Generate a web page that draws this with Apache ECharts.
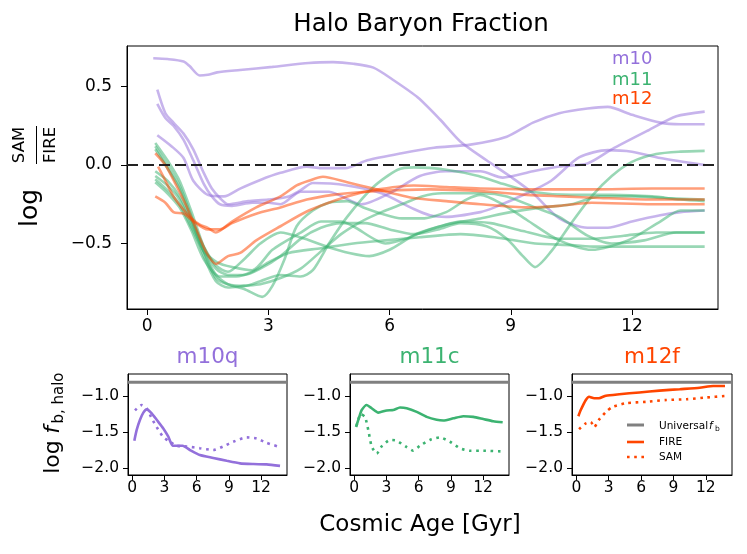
<!DOCTYPE html>
<html>
<head>
  <meta charset="UTF-8"/>
  <title>Halo Baryon Fraction</title>
  <script src="https://cdn.jsdelivr.net/npm/echarts@6/dist/echarts.min.js"></script>
  <style>
    html, body { margin: 0; background: #fff; }
    #main { width: 747px; height: 554px; }
  </style>
</head>
<body>
<div id="main"></div>
<script>
// ---- main panel: log(SAM/FIRE) vs cosmic age [Gyr] ----
const m10a = [[0.15,0.68],[0.5,0.675],[0.9,0.66],[1.05,0.63],[1.3,0.57],[1.5,0.575],[1.73,0.59],[2.3,0.605],[3.1,0.625],[4.0,0.65],[4.6,0.655],[5.1,0.645],[5.6,0.62],[6.1,0.54],[6.7,0.43],[7.25,0.29],[7.75,0.15],[8.4,0.03],[9.0,-0.075],[9.55,-0.18],[10.2,-0.34],[10.9,-0.40],[11.4,-0.40],[12.0,-0.36],[12.7,-0.32],[13.2,-0.30],[13.8,-0.29]];
const m10b = [[0.25,0.19],[0.6,0.12],[0.9,0.045],[1.14,-0.10],[1.5,-0.19],[1.9,-0.2],[2.3,-0.15],[2.8,-0.095],[3.3,-0.05],[3.95,-0.01],[4.3,-0.02],[4.9,-0.02],[5.45,0.03],[6.3,0.075],[7.1,0.11],[8.0,0.13],[8.9,0.18],[9.55,0.27],[10.2,0.33],[10.9,0.36],[11.4,0.37],[12.0,0.32],[12.7,0.27],[13.2,0.26],[13.8,0.26]];
const m10c = [[0.25,0.48],[0.45,0.33],[0.65,0.27],[0.9,0.2],[1.14,0.1],[1.4,-0.05],[1.6,-0.15],[1.8,-0.21],[2.0,-0.25],[2.5,-0.23],[3.0,-0.22],[3.5,-0.2],[3.8,-0.16],[4.1,-0.115],[4.95,-0.13],[5.8,-0.18],[6.6,-0.28],[7.0,-0.32],[7.4,-0.33],[8.25,-0.3],[8.6,-0.27],[9.4,-0.18],[10.0,-0.1],[10.7,0.05],[11.4,0.095],[12.0,0.085],[12.7,0.045],[13.8,0.0]];
const m10d = [[0.25,0.39],[0.45,0.3],[0.65,0.25],[0.9,0.16],[1.14,0.03],[1.4,-0.12],[1.6,-0.2],[1.8,-0.25],[2.1,-0.26],[2.6,-0.24],[3.0,-0.24],[3.3,-0.25],[3.8,-0.17],[4.5,-0.17],[5.3,-0.25],[6.0,-0.18],[6.75,-0.07],[7.4,-0.04],[8.25,-0.04],[8.8,-0.08],[9.55,-0.04],[10.2,-0.01],[10.9,0.01],[11.5,0.1],[12.4,0.22],[13.1,0.31],[13.8,0.34]];

const m11a = [[0.2,0.14],[0.5,0.03],[0.8,-0.1],[1.1,-0.3],[1.4,-0.52],[1.7,-0.66],[2.0,-0.70],[2.4,-0.70],[2.8,-0.66],[3.3,-0.58],[3.8,-0.47],[4.3,-0.40],[4.8,-0.37],[5.4,-0.37],[6.0,-0.41],[6.6,-0.44],[7.2,-0.41],[7.75,-0.37],[8.4,-0.39],[8.9,-0.47],[9.3,-0.58],[9.6,-0.65],[10.0,-0.55],[10.5,-0.37],[11.0,-0.2],[11.5,-0.07],[12.0,0.02],[12.6,0.07],[13.2,0.085],[13.8,0.09]];
const m11b = [[0.2,0.12],[0.5,0.0],[0.8,-0.13],[1.1,-0.33],[1.4,-0.55],[1.7,-0.72],[2.0,-0.76],[2.4,-0.77],[2.8,-0.74],[3.3,-0.70],[3.8,-0.71],[4.1,-0.67],[4.5,-0.5],[4.95,-0.33],[5.6,-0.14],[6.2,-0.03],[6.6,-0.015],[7.4,-0.03],[8.2,-0.07],[8.8,-0.12],[9.5,-0.17],[10.5,-0.19],[11.5,-0.19],[12.5,-0.2],[13.2,-0.22],[13.8,-0.23]];
const m11c = [[0.2,-0.07],[0.5,-0.13],[0.8,-0.22],[1.1,-0.38],[1.4,-0.55],[1.7,-0.7],[2.0,-0.76],[2.4,-0.79],[2.85,-0.84],[3.1,-0.77],[3.4,-0.6],[3.7,-0.39],[4.1,-0.29],[4.5,-0.24],[4.95,-0.23],[5.35,-0.27],[5.8,-0.31],[6.3,-0.34],[6.8,-0.34],[7.4,-0.30],[7.9,-0.22],[8.25,-0.19],[8.8,-0.25],[9.4,-0.35],[10.2,-0.48],[11.0,-0.54],[11.9,-0.48],[12.7,-0.36],[13.2,-0.29],[13.8,-0.29]];
const m11d = [[0.2,-0.09],[0.5,-0.16],[0.8,-0.25],[1.1,-0.4],[1.4,-0.55],[1.73,-0.62],[2.1,-0.65],[2.6,-0.67],[3.1,-0.54],[3.8,-0.43],[4.3,-0.36],[4.8,-0.36],[5.1,-0.39],[5.9,-0.5],[6.4,-0.47],[6.75,-0.43],[7.25,-0.39],[7.75,-0.36],[8.5,-0.37],[9.3,-0.42],[10.2,-0.47],[11.0,-0.47],[11.8,-0.45],[12.6,-0.43],[13.8,-0.43]];
const m11e = [[0.2,-0.11],[0.5,-0.18],[0.8,-0.27],[1.1,-0.42],[1.4,-0.6],[1.8,-0.71],[2.2,-0.71],[2.6,-0.68],[3.0,-0.62],[3.5,-0.56],[4.3,-0.53],[5.1,-0.5],[5.9,-0.48],[6.75,-0.46],[7.75,-0.44],[8.6,-0.46],[9.6,-0.5],[10.5,-0.51],[11.1,-0.52],[12.0,-0.52],[13.0,-0.52],[13.8,-0.52]];
const m11f = [[0.2,0.1],[0.5,-0.02],[0.8,-0.15],[1.1,-0.35],[1.4,-0.58],[1.7,-0.74],[2.0,-0.78],[2.4,-0.77],[2.8,-0.76],[3.3,-0.72],[3.8,-0.66],[4.3,-0.55],[4.8,-0.44],[5.3,-0.36],[5.8,-0.3],[6.3,-0.25],[6.8,-0.2],[7.3,-0.18],[7.75,-0.18],[8.3,-0.18],[8.9,-0.2],[9.6,-0.27],[10.2,-0.33],[10.9,-0.45],[11.5,-0.5],[12.3,-0.48],[13.1,-0.43],[13.8,-0.43]];
const m11g = [[0.2,-0.04],[0.5,-0.1],[0.8,-0.2],[1.1,-0.36],[1.4,-0.52],[1.7,-0.64],[2.0,-0.68],[2.4,-0.6],[2.8,-0.5],[3.3,-0.43],[3.9,-0.47],[4.45,-0.52],[5.0,-0.56],[5.5,-0.58],[6.0,-0.54],[6.6,-0.45],[7.4,-0.38],[8.25,-0.34],[9.0,-0.3],[9.8,-0.27],[10.5,-0.25],[11.2,-0.2],[12.0,-0.2],[12.8,-0.21],[13.8,-0.22]];

const m12a = [[0.2,-0.2],[0.45,-0.24],[0.65,-0.3],[0.9,-0.31],[1.15,-0.36],[1.5,-0.41],[1.8,-0.41],[2.1,-0.37],[2.7,-0.31],[3.3,-0.27],[3.95,-0.22],[4.6,-0.19],[5.4,-0.17],[6.2,-0.16],[7.0,-0.155],[7.75,-0.16],[8.5,-0.17],[9.4,-0.19],[10.3,-0.2],[11.2,-0.21],[12.5,-0.22],[13.8,-0.22]];
const m12b = [[0.2,0.075],[0.45,0.0],[0.7,-0.12],[0.95,-0.25],[1.2,-0.4],[1.45,-0.55],[1.7,-0.63],[2.0,-0.58],[2.3,-0.56],[2.7,-0.48],[3.3,-0.39],[4.0,-0.29],[4.95,-0.2],[5.6,-0.16],[6.6,-0.13],[7.4,-0.14],[8.25,-0.15],[9.5,-0.155],[11.0,-0.155],[12.5,-0.15],[13.8,-0.15]];
const m12c = [[0.27,-0.01],[0.45,-0.1],[0.65,-0.2],[0.85,-0.27],[1.06,-0.33],[1.3,-0.38],[1.5,-0.4],[1.7,-0.43],[2.1,-0.36],[2.7,-0.27],[3.3,-0.2],[3.7,-0.13],[4.0,-0.1],[4.35,-0.075],[4.95,-0.11],[5.6,-0.15],[6.6,-0.21],[7.4,-0.23],[8.25,-0.25],[9.4,-0.27],[10.2,-0.26],[11.0,-0.24],[12.5,-0.25],[13.8,-0.25]];

// ---- bottom panels: log f_b,halo ----
const univFb = -0.807;
const m10qFire = [[0.19,-1.62],[0.41,-1.47],[0.72,-1.33],[1.03,-1.23],[1.34,-1.185],[1.81,-1.24],[2.27,-1.33],[2.89,-1.45],[3.36,-1.565],[3.76,-1.69],[4.13,-1.69],[4.69,-1.69],[5.38,-1.75],[6.3,-1.82],[7.55,-1.86],[8.8,-1.9],[10.04,-1.935],[11.28,-1.945],[12.52,-1.95],[13.77,-1.97]];
const m10qSam  = [[0.25,-1.2],[0.87,-1.125],[1.34,-1.17],[1.81,-1.31],[2.27,-1.43],[2.89,-1.57],[3.51,-1.635],[4.13,-1.69],[5.07,-1.70],[6.3,-1.725],[7.55,-1.75],[8.48,-1.70],[9.41,-1.635],[10.66,-1.575],[11.59,-1.59],[12.52,-1.65],[13.77,-1.71]];
const m11cFire = [[0.16,-1.43],[0.53,-1.26],[0.69,-1.195],[1.15,-1.125],[1.62,-1.17],[2.24,-1.23],[3.02,-1.2],[3.63,-1.195],[4.26,-1.16],[4.88,-1.17],[5.82,-1.22],[6.75,-1.29],[7.68,-1.33],[8.3,-1.34],[9.23,-1.31],[10.16,-1.28],[11.09,-1.29],[12.02,-1.32],[12.95,-1.35],[13.83,-1.365]];
const m11cSam  = [[0.2,-1.42],[0.6,-1.25],[1.0,-1.29],[1.3,-1.47],[1.62,-1.70],[2.09,-1.80],[2.55,-1.70],[3.33,-1.61],[3.95,-1.62],[4.88,-1.71],[5.5,-1.76],[6.12,-1.69],[7.05,-1.61],[7.99,-1.575],[8.92,-1.635],[9.85,-1.725],[10.78,-1.76],[12.02,-1.76],[13.74,-1.77]];
const m12fFire = [[0.19,-1.28],[0.41,-1.195],[0.88,-1.055],[1.18,-1.01],[1.65,-1.03],[2.1,-1.03],[2.74,-0.995],[3.98,-0.975],[5.84,-0.95],[7.7,-0.925],[9.57,-0.905],[11.43,-0.885],[12.68,-0.86],[13.77,-0.86]];
const m12fSam  = [[0.25,-1.46],[0.88,-1.38],[1.34,-1.36],[1.65,-1.435],[2.1,-1.33],[2.74,-1.22],[3.36,-1.15],[4.6,-1.10],[6.47,-1.08],[8.33,-1.055],[10.2,-1.045],[12.06,-1.02],[13.77,-1.0]];

// ticks
const ageTicks = [0, 3, 6, 9, 12];
const ratioTicks = [-0.5, 0, 0.5];
const fbTicks = [-2, -1.5, -1];

const purple = '#9370DB', green = '#3CB371', red = '#FF4500';
const FONT = '"DejaVu Sans", sans-serif';

const mainX = [-0.5, 14.13], mainY = [-0.917, 0.758];
const smallX = [-0.4, 14.42], smallY = [-2.097, -0.694];

const minus = v => (v < 0 ? '\u2212' : '') + Math.abs(v).toFixed(1);

function xAx(gridIndex, range, fontSize, margin, len) {
    return {
        type: 'value', gridIndex: gridIndex, min: range[0], max: range[1],
        axisLine: {show: true, onZero: false, lineStyle: {color: '#000', width: 1}},
        axisTick: {show: true, length: len, customValues: ageTicks, lineStyle: {color: '#000', width: 1}},
        axisLabel: {show: true, customValues: ageTicks, color: '#000', fontSize: fontSize, fontFamily: FONT, margin: margin,
            formatter: v => String(v)},
        splitLine: {show: false}
    };
}
function yAx(gridIndex, range, ticks, fontSize, margin, len) {
    return {
        type: 'value', gridIndex: gridIndex, min: range[0], max: range[1],
        axisLine: {show: true, onZero: false, lineStyle: {color: '#000', width: 1}},
        axisTick: {show: true, length: len, customValues: ticks, lineStyle: {color: '#000', width: 1}},
        axisLabel: {show: true, customValues: ticks, color: '#000', fontSize: fontSize, fontFamily: FONT, margin: margin,
            formatter: minus},
        splitLine: {show: false}
    };
}

function ratioLine(data, color) {
    return {type: 'line', xAxisIndex: 0, yAxisIndex: 0, data: data, symbol: 'none', smooth: 0.25,
        silent: true, z: 2, lineStyle: {color: color, width: 2.6, opacity: 0.52}};
}
function panelLine(idx, data, color, dash, width) {
    return {type: 'line', xAxisIndex: idx, yAxisIndex: idx, data: data, symbol: 'none', smooth: 0.2,
        silent: true, z: 3, lineStyle: {color: color, width: width, type: dash, cap: 'butt'}};
}

const series = [];
[m10a, m10b, m10c, m10d].forEach(d => series.push(ratioLine(d, purple)));
[m11a, m11b, m11c, m11d, m11e, m11f, m11g].forEach(d => series.push(ratioLine(d, green)));
[m12a, m12b, m12c].forEach(d => series.push(ratioLine(d, red)));
// zero reference
series.push({type: 'line', xAxisIndex: 0, yAxisIndex: 0, data: [[mainX[0], 0], [mainX[1], 0]], symbol: 'none',
    silent: true, z: 5, lineStyle: {color: '#222', width: 2, type: [11, 5]}});

const panels = [[m10qFire, m10qSam, purple], [m11cFire, m11cSam, green], [m12fFire, m12fSam, red]];
panels.forEach((p, i) => {
    const idx = i + 1;
    series.push({type: 'line', xAxisIndex: idx, yAxisIndex: idx, data: [[smallX[0], univFb], [smallX[1], univFb]],
        symbol: 'none', silent: true, z: 2, lineStyle: {color: '#808080', width: 3}});
    series.push(panelLine(idx, p[0], p[2], 'solid', 2.6));
    series.push(panelLine(idx, p[1], p[2], [2.6, 4.6], 2.6));
});

function txt(x, y, text, font, color, opts) {
    const o = Object.assign({rotation: 0, align: 'center'}, opts || {});
    return {type: 'text', x: x, y: y, rotation: o.rotation, silent: true,
        style: {text: text, font: font, fill: color || '#000',
            align: o.align, textAlign: o.align, verticalAlign: 'middle', textVerticalAlign: 'middle'}};
}
function seg(x1, y1, x2, y2, color, width, dash) {
    return {type: 'line', silent: true, shape: {x1: x1, y1: y1, x2: x2, y2: y2},
        style: {stroke: color, lineWidth: width, lineDash: dash || null}};
}

const R = Math.PI / 2;
const graphic = [
    txt(421, 25, 'Halo Baryon Fraction', '24.5px ' + FONT, '#000'),
    txt(612, 59, 'm10', '18px ' + FONT, purple, {align: 'left'}),
    txt(612, 80, 'm11', '18px ' + FONT, green, {align: 'left'}),
    txt(612, 99, 'm12', '18px ' + FONT, red, {align: 'left'}),
    // y label of main panel
    txt(30, 208, 'log', '25px ' + FONT, '#000', {rotation: R}),
    txt(20, 145, 'SAM', '16.5px ' + FONT, '#000', {rotation: R}),
    txt(51, 145, 'FIRE', '16.5px ' + FONT, '#000', {rotation: R}),
    seg(36.5, 126, 36.5, 164, '#000', 1),
    // panel titles
    txt(207.5, 357, 'm10q', '21.5px ' + FONT, purple),
    txt(429.5, 357, 'm11c', '21.5px ' + FONT, green),
    txt(652, 357, 'm12f', '21.5px ' + FONT, red),
    // y label of bottom panels
    txt(53, 457, 'log', '22px ' + FONT, '#000', {rotation: R}),
    txt(53, 430, 'f', 'italic 22px ' + FONT, '#000', {rotation: R}),
    txt(59, 398, 'b, halo', '15px ' + FONT, '#000', {rotation: R}),
    // x label
    txt(420, 525, 'Cosmic Age [Gyr]', '23px ' + FONT, '#000'),
    // legend in m12f panel
    seg(627, 425, 644, 425, '#808080', 3),
    seg(627, 442, 644, 442, red, 2.6),
    seg(627, 457, 644, 457, red, 2.6, [2.6, 4.6]),
    txt(659, 426, 'Universal', '10.5px ' + FONT, '#000', {align: 'left'}),
    txt(709, 426, 'f', 'italic 10.5px ' + FONT, '#000', {align: 'left'}),
    txt(715, 429, 'b', '7.5px ' + FONT, '#000', {align: 'left'}),
    txt(659, 442, 'FIRE', '10.5px ' + FONT, '#000', {align: 'left'}),
    txt(659, 457, 'SAM', '10.5px ' + FONT, '#000', {align: 'left'})
];

const gridBase = {show: true, borderColor: '#000', borderWidth: 1, backgroundColor: 'transparent', containLabel: false, outerBoundsMode: 'none'};
const option = {
    backgroundColor: '#fff',
    animation: false,
    textStyle: {fontFamily: FONT},
    grid: [
        Object.assign({left: 127, top: 46, width: 591, height: 263}, gridBase),
        Object.assign({left: 128, top: 374, width: 159, height: 101}, gridBase),
        Object.assign({left: 350, top: 374, width: 159, height: 101}, gridBase),
        Object.assign({left: 572, top: 374, width: 160, height: 101}, gridBase)
    ],
    xAxis: [
        xAx(0, mainX, 17, 9, 6),
        xAx(1, smallX, 15.5, 5, 5),
        xAx(2, smallX, 15.5, 5, 5),
        xAx(3, smallX, 15.5, 5, 5)
    ],
    yAxis: [
        yAx(0, mainY, ratioTicks, 17, 15, 6),
        yAx(1, smallY, fbTicks, 15.5, 9, 5),
        yAx(2, smallY, fbTicks, 15.5, 9, 5),
        yAx(3, smallY, fbTicks, 15.5, 9, 5)
    ],
    series: series,
    graphic: graphic
};

const myChart = echarts.init(document.getElementById('main'));
myChart.setOption(option);
</script>
</body>
</html>
